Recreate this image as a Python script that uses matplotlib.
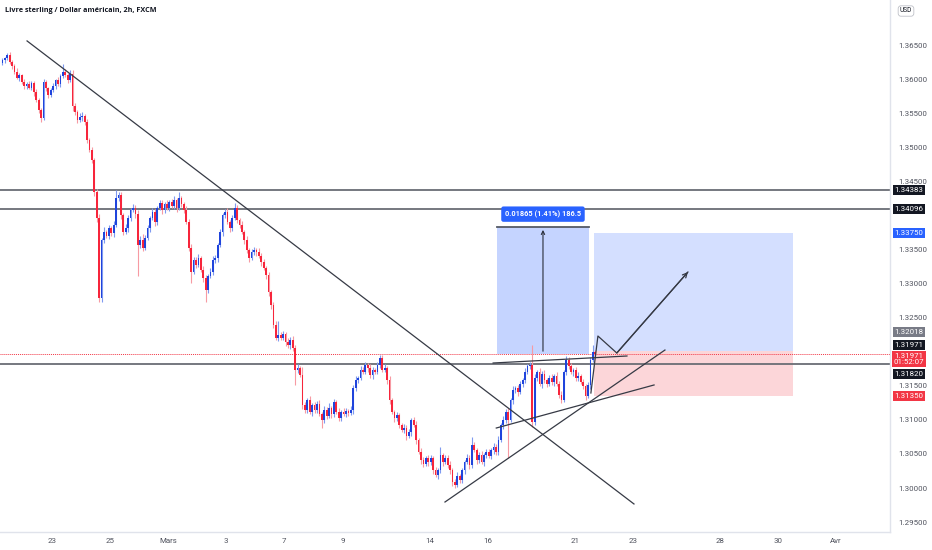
import numpy as np
import matplotlib
matplotlib.use('Agg')
import matplotlib.pyplot as plt
import matplotlib.transforms as mtransforms
from matplotlib.patches import Rectangle

plt.rcParams['font.family'] = ['Roboto', 'DejaVu Sans']

# ---- data (GBPUSD 2h, FXCM) ----
first_bar = 3
first_open = 1.3625
closes = [
    1.3629, 1.3632, 1.3637, 1.3627, 1.3621, 1.3612, 1.3603, 1.3607, 1.3597, 1.3591,
    1.3594, 1.3588, 1.3596, 1.3582, 1.3571, 1.3556, 1.3544, 1.3597, 1.3588, 1.3578,
    1.3585, 1.3591, 1.3600, 1.3594, 1.3606, 1.3612, 1.3607, 1.3600, 1.3609, 1.3562,
    1.3553, 1.3541, 1.3546, 1.3547, 1.3538, 1.3512, 1.3497, 1.3482, 1.3435, 1.3397,
    1.3279, 1.3365, 1.3376, 1.3371, 1.3382, 1.3375, 1.3387, 1.3426, 1.3431, 1.3401,
    1.3376, 1.3382, 1.3397, 1.3409, 1.3412, 1.3403, 1.3357, 1.3365, 1.3353, 1.3368,
    1.3382, 1.3397, 1.3406, 1.3391, 1.3412, 1.3419, 1.3409, 1.3418, 1.3412, 1.3421,
    1.3415, 1.3424, 1.3412, 1.3426, 1.3418, 1.3409, 1.3391, 1.3353, 1.3318, 1.3335,
    1.3328, 1.3338, 1.3321, 1.3309, 1.3291, 1.3312, 1.3318, 1.3335, 1.3338, 1.3357,
    1.3376, 1.3401, 1.3406, 1.3391, 1.3382, 1.3397, 1.3412, 1.3394, 1.3387, 1.3376,
    1.3365, 1.3350, 1.3338, 1.3347, 1.3350, 1.3347, 1.3341, 1.3332, 1.3324, 1.3313,
    1.3288, 1.3269, 1.3240, 1.3221, 1.3225, 1.3221, 1.3226, 1.3215, 1.3210, 1.3218,
    1.3206, 1.3174, 1.3176, 1.3166, 1.3122, 1.3115, 1.3129, 1.3112, 1.3122, 1.3115,
    1.3124, 1.3109, 1.3100, 1.3115, 1.3106, 1.3118, 1.3109, 1.3126, 1.3112, 1.3103,
    1.3112, 1.3109, 1.3113, 1.3110, 1.3115, 1.3147, 1.3159, 1.3162, 1.3174, 1.3171,
    1.3181, 1.3176, 1.3166, 1.3174, 1.3171, 1.3181, 1.3191, 1.3174, 1.3176, 1.3159,
    1.3129, 1.3112, 1.3103, 1.3107, 1.3093, 1.3085, 1.3088, 1.3076, 1.3082, 1.3100,
    1.3093, 1.3071, 1.3053, 1.3041, 1.3035, 1.3044, 1.3038, 1.3044, 1.3026, 1.3019,
    1.3026, 1.3049, 1.3038, 1.3044, 1.3034, 1.3026, 1.3009, 1.3004, 1.3018, 1.3012,
    1.3026, 1.3038, 1.3044, 1.3034, 1.3063, 1.3056, 1.3041, 1.3049, 1.3038, 1.3049,
    1.3053, 1.3047, 1.3056, 1.3060, 1.3053, 1.3071, 1.3093, 1.3100, 1.3112, 1.3100,
    1.3129, 1.3144, 1.3147, 1.3141, 1.3153, 1.3159, 1.3171, 1.3179, 1.3181, 1.3097,
    1.3162, 1.3171, 1.3153, 1.3168, 1.3159, 1.3153, 1.3162, 1.3156, 1.3165, 1.3153,
    1.3137, 1.3129, 1.3171, 1.3188, 1.3179, 1.3171, 1.3174, 1.3162, 1.3165, 1.3156,
    1.3150, 1.3135, 1.3151, 1.3188, 1.3200, 1.31971,
]
# wick lengths in pips above / below the body
wick_up = [
    3, 2, 3, 4, 2, 3, 5, 3, 2, 4,
    3, 5, 2, 3, 4, 2, 3, 4, 3, 2,
    3, 4, 2, 5, 3, 12, 4, 3, 5, 6,
    4, 3, 5, 6, 3, 4, 2, 5, 3, 4,
    6, 3, 8, 4, 5, 3, 6, 12, 5, 4,
    3, 6, 4, 3, 5, 4, 6, 5, 8, 4,
    5, 3, 6, 4, 3, 5, 4, 3, 6, 3,
    4, 5, 3, 9, 4, 3, 5, 4, 6, 5,
    4, 6, 3, 5, 4, 3, 5, 6, 4, 3,
    5, 3, 4, 6, 3, 5, 7, 4, 3, 5,
    4, 6, 3, 5, 4, 3, 6, 4, 5, 3,
    4, 3, 5, 6, 20, 4, 5, 3, 6, 4,
    5, 4, 6, 3, 12, 5, 4, 6, 3, 5,
    4, 6, 3, 5, 4, 7, 3, 5, 4, 6,
    3, 5, 4, 3, 6, 4, 5, 3, 6, 4,
    5, 3, 6, 4, 3, 5, 5, 4, 6, 3,
    6, 4, 3, 5, 4, 3, 6, 4, 5, 3,
    4, 5, 3, 6, 4, 3, 5, 4, 3, 5,
    4, 12, 3, 5, 4, 6, 3, 4, 5, 3,
    4, 3, 6, 4, 12, 5, 3, 4, 6, 3,
    5, 4, 3, 6, 4, 5, 3, 6, 4, 5,
    4, 6, 3, 5, 4, 3, 6, 4, 5, 29,
    5, 3, 6, 4, 5, 3, 4, 6, 3, 5,
    4, 6, 3, 6, 4, 5, 3, 4, 6, 3,
    4, 3, 5, 4, 10, 3,
]
wick_dn = [
    3, 4, 2, 3, 5, 3, 2, 4, 3, 5,
    4, 2, 3, 5, 3, 4, 6, 3, 4, 5,
    3, 2, 5, 3, 4, 3, 2, 4, 3, 8,
    5, 4, 3, 6, 4, 5, 3, 4, 5, 6,
    6, 5, 4, 3, 5, 4, 6, 3, 4, 5,
    4, 3, 5, 4, 3, 6, 45, 4, 5, 3,
    4, 6, 3, 5, 4, 3, 6, 4, 3, 5,
    3, 4, 6, 3, 5, 4, 3, 5, 16, 4,
    5, 3, 4, 6, 18, 4, 3, 5, 4, 6,
    3, 5, 4, 3, 6, 4, 3, 5, 4, 3,
    6, 4, 5, 3, 4, 6, 3, 5, 4, 6,
    5, 6, 4, 3, 5, 4, 3, 6, 4, 5,
    4, 22, 5, 3, 6, 4, 5, 3, 6, 4,
    5, 3, 12, 4, 5, 3, 6, 4, 3, 5,
    4, 3, 5, 4, 3, 6, 4, 5, 3, 4,
    3, 5, 4, 6, 3, 4, 5, 3, 4, 6,
    5, 3, 6, 4, 5, 3, 4, 6, 3, 5,
    4, 6, 3, 5, 4, 3, 6, 4, 5, 3,
    6, 4, 5, 3, 4, 5, 6, 4, 3, 5,
    4, 5, 3, 6, 4, 3, 5, 4, 3, 6,
    5, 3, 4, 6, 5, 4, 3, 6, 4, 56,
    3, 5, 4, 6, 3, 4, 5, 3, 4, 7,
    5, 4, 3, 6, 4, 5, 3, 4, 6, 3,
    5, 4, 3, 5, 4, 3, 6, 4, 5, 3,
    4, 6, 3, 5, 3, 4,
]

date_days = [2, 4, 6, 8, 10, 12, 15, 17, 20, 22, 25, 27, 29]
date_labels = ['23', '25', 'Mars', '3', '7', '9', '14', '16', '21', '23', '28', '30', 'Avr']
price_ticks = [1.295, 1.300, 1.305, 1.310, 1.315, 1.325, 1.330, 1.335,
               1.345, 1.350, 1.355, 1.360, 1.365]

hlines = [1.34383, 1.34096, 1.31820]
last_price = 1.31971
measure_from, measure_to = 1.31971, 1.33836
measure_bars = (207.4, 245.4)
entry, target, stop = 1.32018, 1.33750, 1.31350
position_bars = (247.5, 329.8)

# drawings: (bar, price) points
trend_lines = [
    [(13.2, 1.36574), (264.0, 1.29765)],
    [(185.9, 1.29794), (276.8, 1.32029)],
    [(207.1, 1.30882), (272.3, 1.31515)],
    [(205.8, 1.31838), (261.1, 1.31941)],
]
path_pts = [(246.2, 1.31397), (249.1, 1.32235), (256.9, 1.31985), (286.3, 1.33176)]

# ---- figure ----
W, H = 932, 550
fig = plt.figure(figsize=(W / 100, H / 100), dpi=100)
ax = fig.add_axes([0, 18 / H, 890 / W, 532 / H])
ax.set_xlim(2.02, 369.8)
ax.set_ylim(1.29353, 1.37176)

x = np.arange(first_bar, first_bar + len(closes))
c = np.array(closes)
o = np.concatenate([[first_open], c[:-1]])
hi = np.maximum(o, c) + np.array(wick_up) * 1e-4
lo = np.minimum(o, c) - np.array(wick_dn) * 1e-4
up = c >= o

bull, bear = '#1f44dc', '#f7253b'
ax.vlines(x[up], lo[up], hi[up], color='#7f9af0', lw=0.8, zorder=3)
ax.vlines(x[~up], lo[~up], hi[~up], color='#f79aa3', lw=0.8, zorder=3)
body = np.maximum(np.abs(c - o), 0.00005)
ax.bar(x[up], body[up], bottom=np.minimum(o, c)[up], width=0.72, color=bull, lw=0, zorder=4)
ax.bar(x[~up], body[~up], bottom=np.minimum(o, c)[~up], width=0.72, color=bear, lw=0, zorder=4)

# horizontal levels
for lv in hlines:
    ax.axhline(lv, color='#6a6d75', lw=1.3, zorder=2)
ax.axhline(last_price, color='#f23645', lw=0.7, ls=(0, (1, 1)), zorder=2)

# measure tool
m0, m1 = measure_bars
ax.add_patch(Rectangle((m0, measure_from), m1 - m0, measure_to - measure_from,
                       fc='#2962ff', alpha=0.27, lw=0, zorder=1))
ax.plot([m0, m1], [measure_to, measure_to], color='#555a66', lw=1.3, zorder=2)
mid = m0 + (m1 - m0) * 0.5
ax.annotate('', xy=(mid, measure_to), xytext=(mid, measure_from),
            arrowprops=dict(arrowstyle='->', color='#2a2e39', lw=0.8, mutation_scale=6), zorder=5)
ax.text(mid, measure_to, '0.01865 (1.41%) 186.5', ha='center', va='bottom', fontsize=5.3,
        color='white', fontweight='bold',
        bbox=dict(boxstyle='round,pad=0.5,rounding_size=0.3', fc='#2962ff', ec='none'),
        transform=ax.transData + mtransforms.ScaledTranslation(0, 9 / 100, fig.dpi_scale_trans),
        zorder=6)

# long position
p0, p1 = position_bars
ax.add_patch(Rectangle((p0, entry), p1 - p0, target - entry, fc='#2962ff', alpha=0.2, lw=0, zorder=1))
ax.add_patch(Rectangle((p0, stop), p1 - p0, entry - stop, fc='#f23645', alpha=0.2, lw=0, zorder=1))

# trend lines and arrow path
for seg in trend_lines:
    xs, ys = zip(*seg)
    ax.plot(xs, ys, color='#363a45', lw=0.9, zorder=5)
px, py = zip(*path_pts)
ax.plot(px, py, color='#363a45', lw=0.9, zorder=5)
ax.annotate('', xy=path_pts[-1], xytext=path_pts[-2],
            arrowprops=dict(arrowstyle='->', color='#363a45', lw=0.9, mutation_scale=8,
                            shrinkA=0, shrinkB=0), zorder=5)

# axes styling
for s in ['top', 'left']:
    ax.spines[s].set_visible(False)
for s in ['right', 'bottom']:
    ax.spines[s].set_color('#e0e3eb')
    ax.spines[s].set_linewidth(1)
ax.yaxis.tick_right()
ax.set_yticks(price_ticks)
ax.set_yticklabels(['%.5f' % v for v in price_ticks])
ax.tick_params(axis='y', length=0, pad=6, labelsize=5.7, labelcolor='#50535e')
ax.set_xticks([12 * d - 0.5 for d in date_days])
ax.set_xticklabels(date_labels)
ax.tick_params(axis='x', length=0, pad=4, labelsize=5.7, labelcolor='#50535e')

# right axis price labels
blend = mtransforms.blended_transform_factory(ax.transAxes, ax.transData)
lx = 909 / 890
axis_labels = [
    (1.34383, '1.34383', '#131722', 0),
    (1.34096, '1.34096', '#131722', 0),
    (target, '1.33750', '#2962ff', 0),
    (entry, '1.32018', '#787b86', 19),
    (last_price, '1.31971', '#131722', 9),
    (last_price, '1.31971\n01:52:07', '#f23645', -5),
    (1.31820, '1.31820', '#131722', -10),
    (stop, '1.31350', '#f23645', 0),
]
for val, txt, col, dy in axis_labels:
    ax.annotate(txt, xy=(lx, val), xycoords=blend, xytext=(0, dy), textcoords='offset pixels',
                ha='center', va='center', fontsize=5.7, color='white', linespacing=1.15,
                bbox=dict(boxstyle='square,pad=0.25', fc=col, ec='none'),
                annotation_clip=False, zorder=10)

ax.text(906 / 890, 1.0 - 11 / 532, 'USD', transform=ax.transAxes, ha='center', va='center',
        fontsize=4.8, color='#131722',
        bbox=dict(boxstyle='round,pad=0.25,rounding_size=0.4', fc='white', ec='#b2b5be', lw=0.5),
        clip_on=False, zorder=10)

fig.text(5 / W, 1 - 10 / H, 'Livre sterling / Dollar américain, 2h, FXCM', ha='left', va='center',
         fontsize=5.2, color='#131722', fontweight='bold', family=['Open Sans', 'DejaVu Sans'])

fig.savefig('out.png', dpi=100)
